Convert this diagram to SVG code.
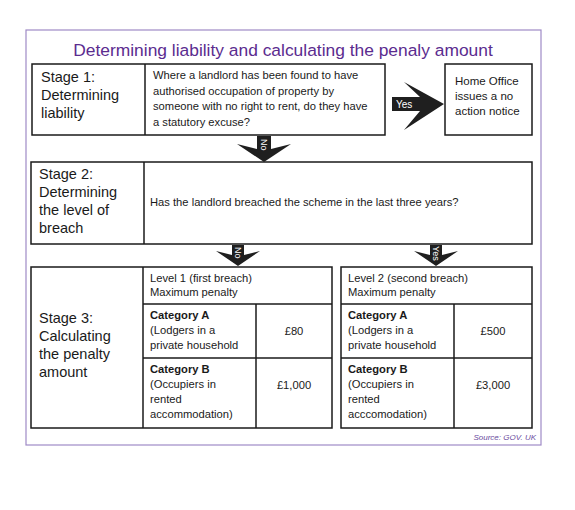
<svg xmlns="http://www.w3.org/2000/svg" width="575" height="510" viewBox="0 0 575 510">
<style>
.box{fill:#fff;stroke:#1a1a1a;stroke-width:1.5}
.frame{fill:#fff;stroke:#9f8ac6;stroke-width:1.2}
.stage{font-family:"Liberation Sans",Arial,sans-serif;font-size:14.5px;fill:#1a1a1a}
.t{font-family:"Liberation Sans",Arial,sans-serif;font-size:11.2px;fill:#1a1a1a}
.b{font-weight:bold}
.title{font-family:"Liberation Sans",Arial,sans-serif;font-size:17.4px;fill:#5b2c8f}
.arrow{fill:#1f1f1f}
.al{font-family:"Liberation Sans",Arial,sans-serif;font-size:9px;fill:#fff}
.src{font-family:"Liberation Sans",Arial,sans-serif;font-size:8px;font-style:italic;fill:#6a4a9e}
</style>
<rect width="575" height="510" fill="#fff"/>
<rect class="frame" x="26" y="30" width="515" height="415"/>
<text class="title" x="283" y="56" text-anchor="middle">Determining liability and calculating the penaly amount</text>

<g id="stage1">
<rect class="box" x="32" y="64" width="353" height="71"/>
<line class="box" x1="145" y1="64" x2="145" y2="135"/>
<text class="stage" x="41" y="82">Stage 1:</text>
<text class="stage" x="41" y="100">Determining</text>
<text class="stage" x="41" y="118">liability</text>
<text class="t" x="153" y="79">Where a landlord has been found to have</text>
<text class="t" x="153" y="94.5">authorised occupation of property by</text>
<text class="t" x="153" y="110">someone with no right to rent, do they have</text>
<text class="t" x="153" y="125.5">a statutory excuse?</text>
</g>

<g id="homeoffice">
<rect class="box" x="445" y="64" width="87" height="71"/>
<text class="t" x="455" y="85" style="font-size:11.5px">Home Office</text>
<text class="t" x="455" y="100" style="font-size:11.5px">issues a no</text>
<text class="t" x="455" y="115" style="font-size:11.5px">action notice</text>
</g>

<g id="stage2">
<rect class="box" x="31" y="162" width="501" height="82"/>
<line class="box" x1="144" y1="162" x2="144" y2="244"/>
<text class="stage" x="39" y="179">Stage 2:</text>
<text class="stage" x="39" y="197">Determining</text>
<text class="stage" x="39" y="215">the level of</text>
<text class="stage" x="39" y="233">breach</text>
<text class="t" x="150" y="206">Has the landlord breached the scheme in the last three years?</text>
</g>

<g id="stage3">
<rect class="box" x="31" y="267" width="301" height="161"/>
<line class="box" x1="143" y1="267" x2="143" y2="428"/>
<text class="stage" x="39" y="323">Stage 3:</text>
<text class="stage" x="39" y="341">Calculating</text>
<text class="stage" x="39" y="359">the penalty</text>
<text class="stage" x="39" y="377">amount</text>
</g>

<g id="level1">
<line class="box" x1="143" y1="304" x2="332" y2="304"/>
<line class="box" x1="143" y1="358" x2="332" y2="358"/>
<line class="box" x1="256" y1="304" x2="256" y2="428"/>
<text class="t" x="150" y="282">Level 1 (first breach)</text>
<text class="t" x="150" y="296">Maximum penalty</text>
<text class="t b" x="150" y="319">Category A</text>
<text class="t" x="150" y="334">(Lodgers in a</text>
<text class="t" x="150" y="349">private household</text>
<text class="t" x="294" y="335" text-anchor="middle">£80</text>
<text class="t b" x="150" y="373">Category B</text>
<text class="t" x="150" y="388">(Occupiers in</text>
<text class="t" x="150" y="403">rented</text>
<text class="t" x="150" y="418">accommodation)</text>
<text class="t" x="294" y="389" text-anchor="middle">£1,000</text>
</g>

<g id="level2">
<rect class="box" x="341" y="267" width="191" height="161"/>
<line class="box" x1="341" y1="304" x2="532" y2="304"/>
<line class="box" x1="341" y1="358" x2="532" y2="358"/>
<line class="box" x1="454" y1="304" x2="454" y2="428"/>
<text class="t" x="348" y="282">Level 2 (second breach)</text>
<text class="t" x="348" y="296">Maximum penalty</text>
<text class="t b" x="348" y="319">Category A</text>
<text class="t" x="348" y="334">(Lodgers in a</text>
<text class="t" x="348" y="349">private household</text>
<text class="t" x="493" y="335" text-anchor="middle">£500</text>
<text class="t b" x="348" y="373">Category B</text>
<text class="t" x="348" y="388">(Occupiers in</text>
<text class="t" x="348" y="403">rented</text>
<text class="t" x="348" y="418">acccomodation)</text>
<text class="t" x="493" y="389" text-anchor="middle">£3,000</text>
</g>

<g id="connectors">
<polygon class="arrow" points="392,97 420,97 404,82 444,104 404,130 420,111 392,111"/>
<text class="al" x="396" y="108" style="font-size:10px">Yes</text>
<polygon class="arrow" points="257,136 271,136 271,149 291,144 264,162 237,144 257,149"/>
<text class="al" transform="translate(261,139) rotate(90)">No</text>
<polygon class="arrow" points="232,245 244,245 244,255 260,251 238,266 216,251 232,255"/>
<text class="al" transform="translate(235,247) rotate(90)">No</text>
<polygon class="arrow" points="430,245 442,245 442,255 458,251 436,266 414,251 430,255"/>
<text class="al" transform="translate(433,246) rotate(90)">Yes</text>
</g>
<text class="src" x="536" y="440" text-anchor="end">Source: GOV. UK</text>
</svg>
